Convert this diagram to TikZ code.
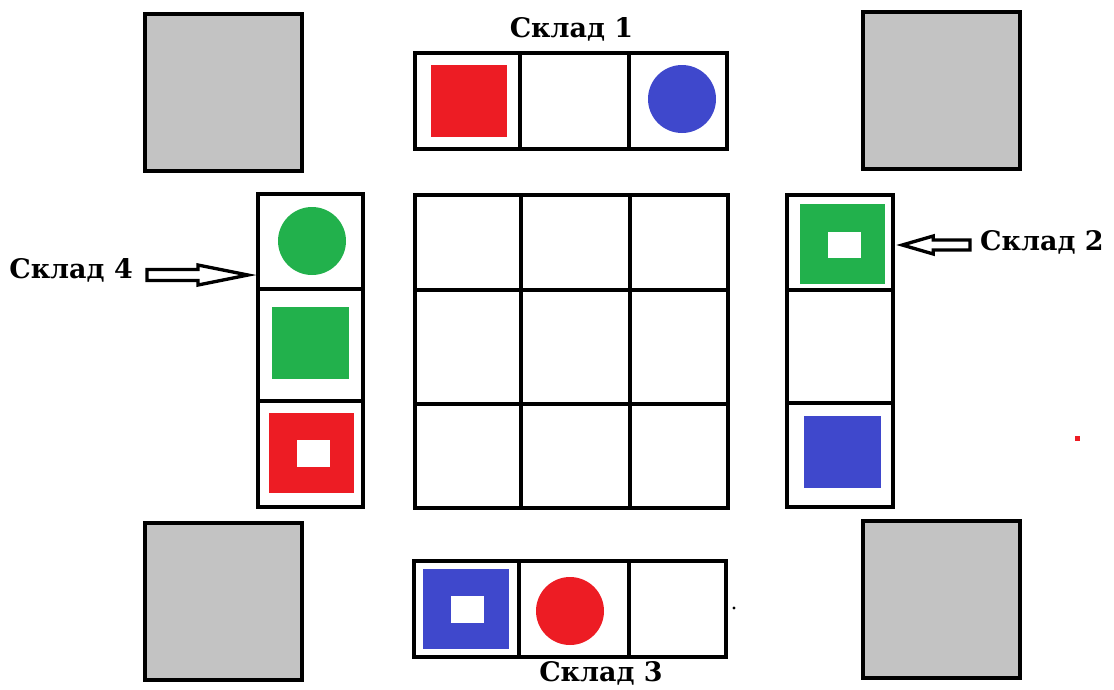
\documentclass[tikz,border=0pt]{standalone}
\usepackage{fontspec}
\setmainfont{DejaVu Serif}
\usetikzlibrary{calc}

\definecolor{paintred}{HTML}{ED1C24}
\definecolor{paintblue}{HTML}{3F48CC}
\definecolor{paintgreen}{HTML}{22B14C}
\definecolor{paintgray}{HTML}{C3C3C3}

\begin{document}
\begin{tikzpicture}[
		x=0.03cm, y=-0.03cm,
		% Styles
		cellgrid/.style={draw=black, line width=0.12cm, line cap=rect},
		depot/.style={draw=black, fill=paintgray, line width=0.13cm},
		storename/.style={inner sep=0pt, font=\bfseries\fontsize{23}{27}\selectfont},
		blockarrow/.style={draw=black, fill=white, line width=0.1cm, line join=miter}
		]
		\useasboundingbox (0,0) rectangle (1114,689);
		
		% =========================================================
		% 1. CORNER BLOCKS (gray)
		% =========================================================
		\draw[depot] (145,14) rectangle (302,171);
		\draw[depot] (863,12) rectangle (1020,169);
		\draw[depot] (145,523) rectangle (302,680);
		\draw[depot] (863,521) rectangle (1020,678);
		
		% =========================================================
		% 2. CENTRAL FIELD 3x3
		% =========================================================
		\draw[cellgrid] (415,195.3) rectangle (728,508.3);
		\foreach \gx in {520.5,630}
			\draw[cellgrid] (\gx,195.3) -- (\gx,508.3);
		\foreach \gy in {290.3,403.7}
			\draw[cellgrid] (415,\gy) -- (728,\gy);
		
		% =========================================================
		% 3. STORE 1 (top)
		% =========================================================
		\node[storename, anchor=base] (s1) at (571.5,37) {Склад 1};
		\draw[cellgrid] (415,53) rectangle (727,149);
		\draw[cellgrid] (519.5,53) -- (519.5,149) (629,53) -- (629,149);
		\fill[paintred] (431,65) rectangle (507,137);
		\fill[paintblue] (682,99) circle (34);
		
		% =========================================================
		% 4. STORE 4 (left)
		% =========================================================
		\draw[cellgrid] (258,193.7) rectangle (363,506.7);
		\draw[cellgrid] (258,288.7) -- (363,288.7) (258,401) -- (363,401);
		\fill[paintgreen] (312,241) circle (34);
		\fill[paintgreen] (272,307) rectangle (349,379);
		\fill[paintred] (269,413) rectangle (354,493);
		\fill[white] (297,440) rectangle (330,467);
		
		\node[storename, anchor=base east] (s4) at (133,278) {Склад 4};
		\coordinate (w4) at (258,275);
		\coordinate (t4) at ($(w4)+(-10,0)$);
		\coordinate (b4) at ($(s4.east)+(14,0)$);
		\coordinate (e4) at (b4 |- t4);
		\draw[blockarrow] (t4) -- ++(-50,-10) -- ++(0,4.5) -- ($(e4)+(0,-5.5)$)
			-- ($(e4)+(0,5.5)$) -- ($(t4)+(-50,5.5)$) -- ++(0,4.5) -- cycle;
		
		% =========================================================
		% 5. STORE 2 (right)
		% =========================================================
		\draw[cellgrid] (787,195.3) rectangle (893.3,507);
		\draw[cellgrid] (787,290.3) -- (893.3,290.3) (787,402.7) -- (893.3,402.7);
		\fill[paintgreen] (800,204) rectangle (885,284);
		\fill[white] (828,232) rectangle (861,258);
		\fill[paintblue] (804,416) rectangle (881,488);
		
		\node[storename, anchor=base west] (s2) at (980,250) {Склад 2};
		\coordinate (w2) at (893.3,245);
		\coordinate (t2) at ($(w2)+(9,0)$);
		\coordinate (b2) at ($(s2.west)+(-10,0)$);
		\coordinate (e2) at (b2 |- t2);
		\draw[blockarrow] (t2) -- ++(31,-9) -- ++(0,4) -- ($(e2)+(0,-5)$)
			-- ($(e2)+(0,5)$) -- ($(t2)+(31,5)$) -- ++(0,4) -- cycle;
		
		% stray red dot
		\fill[paintred] (1075,436) rectangle (1080,441);
		
		% =========================================================
		% 6. STORE 3 (bottom)
		% =========================================================
		\draw[cellgrid] (413.8,561.3) rectangle (726,657);
		\draw[cellgrid] (519,561.3) -- (519,657) (628.7,561.3) -- (628.7,657);
		\fill[paintblue] (423,569) rectangle (509,649);
		\fill[white] (451,596) rectangle (484,623);
		\fill[paintred] (570,611) circle (34);
		\fill[black] (734,608) circle (1.6);
		
		\node[storename, anchor=base] (s3) at (601,681) {Склад 3};
		
	\end{tikzpicture}
\end{document}
